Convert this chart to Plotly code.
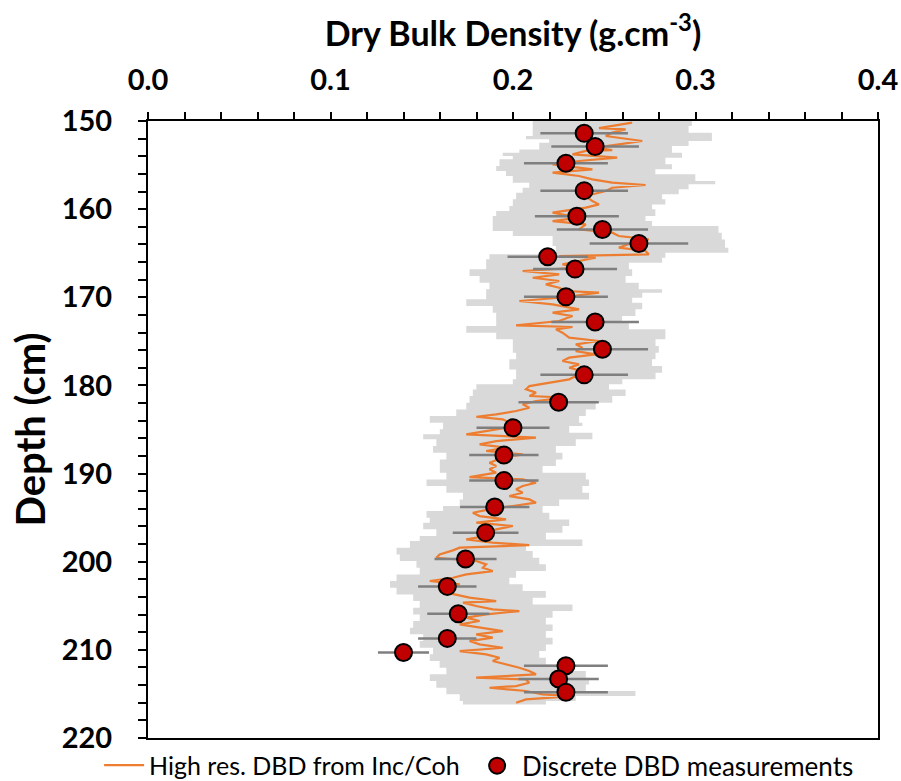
import plotly.graph_objects as go

# ---------------- data ----------------
# High-resolution DBD (orange line)
hr_depth = [150.19, 150.57, 150.80, 150.95, 151.32, 151.70, 152.27, 152.65, 153.03, 153.30,
            153.40, 153.78, 154.16, 154.54, 154.92, 155.48, 155.86, 156.24, 156.62, 157.00,
            157.26, 157.57, 157.94, 158.51, 159.08, 159.46, 159.83, 160.40, 160.97, 161.35,
            161.73, 162.29, 162.67, 163.05, 163.43, 163.80, 164.37, 164.75, 165.13, 165.32,
            165.51, 165.88, 166.26, 166.64, 167.02, 167.40, 167.78, 168.15, 168.53, 168.91,
            169.29, 169.48, 170.05, 170.42, 170.80, 171.37, 171.75, 172.13, 172.69, 173.18,
            173.37, 173.64, 174.02, 174.58, 174.96, 175.34, 175.72, 176.10, 176.47, 176.85,
            177.23, 177.61, 177.99, 178.37, 178.93, 179.31, 179.69, 180.07, 180.45, 180.82,
            181.20, 181.39, 181.77, 182.15, 182.53, 182.90, 183.28, 183.55, 183.85, 184.23,
            184.61, 184.98, 185.55, 185.93, 186.31, 186.69, 187.06, 187.44, 187.82, 188.20,
            188.77, 189.15, 189.52, 189.90, 190.40, 190.66, 191.04, 191.41, 191.79, 192.17,
            192.55, 192.93, 193.30, 193.68, 194.06, 194.44, 194.82, 195.20, 195.57, 195.95,
            196.33, 196.71, 197.09, 197.47, 197.84, 198.11, 198.41, 198.71, 199.17, 199.55,
            199.92, 200.30, 200.68, 201.06, 201.44, 201.82, 202.19, 202.57, 202.95, 203.33,
            203.71, 204.08, 204.46, 204.65, 205.03, 205.41, 205.60, 205.98, 206.35, 206.73,
            207.11, 207.49, 207.87, 208.24, 208.62, 209.00, 209.38, 209.76, 210.14, 210.51,
            210.89, 211.27, 211.65, 212.03, 212.40, 212.78, 213.16, 213.35, 213.73, 214.11,
            214.30, 214.67, 215.05, 215.24, 215.62, 216.00]
hr_dbd = [0.2653, 0.2544, 0.2471, 0.2617, 0.2544, 0.2508, 0.2708, 0.2580, 0.2453, 0.2544,
          0.2399, 0.2326, 0.2571, 0.2362, 0.2217, 0.2435, 0.2217, 0.2362, 0.2435, 0.2544,
          0.2726, 0.2544, 0.2508, 0.2399, 0.2435, 0.2471, 0.2399, 0.2217, 0.2362, 0.2217,
          0.2399, 0.2362, 0.2544, 0.2580, 0.2744, 0.2653, 0.2580, 0.2726, 0.2744, 0.2253,
          0.2453, 0.2362, 0.2271, 0.2362, 0.2053, 0.2253, 0.2108, 0.2253, 0.2180, 0.2253,
          0.2289, 0.2471, 0.2253, 0.2035, 0.2217, 0.2362, 0.2217, 0.2326, 0.2253, 0.2017,
          0.2326, 0.2235, 0.2271, 0.2308, 0.2471, 0.2344, 0.2380, 0.2344, 0.2453, 0.2308,
          0.2271, 0.2362, 0.2308, 0.2380, 0.2344, 0.2308, 0.2199, 0.2090, 0.2071, 0.2126,
          0.2090, 0.2290, 0.2126, 0.2053, 0.2090, 0.2017, 0.1908, 0.1799, 0.1944, 0.1980,
          0.2017, 0.1908, 0.1744, 0.2126, 0.1908, 0.1817, 0.1962, 0.1853, 0.2053, 0.1944,
          0.1871, 0.1908, 0.1871, 0.1908, 0.1762, 0.2053, 0.2126, 0.2053, 0.2017, 0.2053,
          0.1980, 0.2090, 0.2126, 0.1999, 0.1871, 0.1780, 0.1817, 0.1962, 0.1799, 0.1999,
          0.1908, 0.1871, 0.1853, 0.1744, 0.1889, 0.2089, 0.1708, 0.1671, 0.1598, 0.1580,
          0.1798, 0.1853, 0.1835, 0.1889, 0.1744, 0.1671, 0.1544, 0.1708, 0.1617, 0.1598,
          0.1689, 0.1762, 0.1908, 0.1726, 0.1798, 0.1889, 0.2035, 0.1853, 0.1744, 0.1817,
          0.1708, 0.1817, 0.1944, 0.1798, 0.1889, 0.1762, 0.1817, 0.1944, 0.1708, 0.1853,
          0.1926, 0.1889, 0.1962, 0.2035, 0.2089, 0.2126, 0.1798, 0.2071, 0.2089, 0.2017,
          0.1871, 0.2071, 0.2162, 0.2326, 0.2071, 0.2017]

# Uncertainty envelope of the high-res series (grey band): lower edge
band_lo_depth = [150.00, 151.32, 151.70, 152.08, 152.46, 153.22, 153.59, 153.97, 154.35, 155.11,
                 155.67, 156.24, 157.00, 157.57, 158.13, 158.89, 159.65, 160.21, 160.78, 161.91,
                 162.48, 163.05, 164.18, 164.94, 165.13, 165.69, 166.83, 167.59, 168.34, 169.10,
                 170.23, 170.99, 171.75, 173.26, 174.02, 174.77, 175.53, 176.29, 177.04, 178.18,
                 179.31, 179.88, 180.45, 181.20, 181.96, 182.72, 183.47, 184.23, 184.98, 185.55,
                 186.12, 186.88, 187.63, 188.39, 189.15, 189.90, 190.66, 191.41, 192.17, 192.93,
                 193.68, 194.25, 195.01, 195.57, 196.33, 197.09, 197.65, 198.41, 199.17, 199.92,
                 200.68, 201.44, 202.19, 202.95, 203.71, 204.46, 205.22, 205.98, 206.73, 207.49,
                 208.24, 209.00, 209.76, 210.51, 211.27, 212.03, 212.78, 213.54, 214.30, 215.05,
                 215.81, 216.19]
band_lo = [0.2108, 0.2108, 0.2071, 0.2198, 0.2144, 0.2035, 0.1944, 0.1999, 0.1926, 0.1908,
           0.1962, 0.1999, 0.2089, 0.2053, 0.2017, 0.1999, 0.1980, 0.1908, 0.1889, 0.1889,
           0.1999, 0.2217, 0.2235, 0.2217, 0.1871, 0.1853, 0.1762, 0.1817, 0.1871, 0.1853,
           0.1744, 0.1889, 0.1908, 0.1744, 0.1908, 0.1999, 0.1999, 0.2017, 0.1980, 0.2017,
           0.1999, 0.1799, 0.1780, 0.1762, 0.1744, 0.1689, 0.1544, 0.1617, 0.1599, 0.1508,
           0.1580, 0.1562, 0.1635, 0.1599, 0.1599, 0.1635, 0.1526, 0.1635, 0.1726, 0.1708,
           0.1617, 0.1526, 0.1544, 0.1508, 0.1580, 0.1489, 0.1435, 0.1362, 0.1380, 0.1471,
           0.1489, 0.1362, 0.1326, 0.1362, 0.1453, 0.1489, 0.1453, 0.1489, 0.1453, 0.1435,
           0.1508, 0.1489, 0.1562, 0.1544, 0.1598, 0.1635, 0.1544, 0.1580, 0.1635, 0.1708,
           0.1726, 0.1762]
# upper edge
band_hi_depth = [150.00, 150.57, 151.32, 152.27, 152.84, 153.59, 154.16, 154.92, 155.48, 156.05,
                 156.81, 157.19, 157.75, 158.32, 158.89, 159.46, 160.02, 160.78, 161.35, 161.91,
                 162.67, 163.43, 164.37, 164.94, 165.51, 166.07, 166.83, 167.59, 168.34, 169.10,
                 169.48, 170.05, 170.61, 171.37, 172.13, 172.88, 173.64, 174.77, 175.53, 176.29,
                 177.04, 177.80, 178.56, 179.31, 179.88, 180.45, 181.20, 181.96, 182.72, 183.47,
                 184.23, 184.61, 185.36, 186.12, 186.88, 187.63, 188.39, 189.15, 189.90, 190.66,
                 191.41, 192.17, 192.93, 193.68, 194.44, 195.20, 195.95, 196.71, 197.47, 198.22,
                 198.79, 199.55, 200.30, 201.06, 201.82, 202.57, 203.33, 204.08, 204.84, 205.60,
                 206.35, 207.11, 207.87, 208.62, 209.38, 210.14, 210.89, 211.65, 212.40, 213.16,
                 213.92, 214.67, 215.24, 215.81, 216.19]
band_hi = [0.3035, 0.2980, 0.2962, 0.3090, 0.2962, 0.2871, 0.2926, 0.2835, 0.2871, 0.2780,
           0.2999, 0.3108, 0.2962, 0.2908, 0.2817, 0.2835, 0.2762, 0.2780, 0.2726, 0.2762,
           0.3126, 0.3144, 0.3162, 0.3180, 0.2835, 0.2817, 0.2635, 0.2653, 0.2617, 0.2689,
           0.2817, 0.2708, 0.2653, 0.2708, 0.2671, 0.2598, 0.2635, 0.2835, 0.2781, 0.2799,
           0.2781, 0.2762, 0.2817, 0.2781, 0.2599, 0.2526, 0.2617, 0.2544, 0.2453, 0.2399,
           0.2362, 0.2380, 0.2308, 0.2435, 0.2344, 0.2235, 0.2271, 0.2235, 0.2162, 0.2399,
           0.2417, 0.2380, 0.2417, 0.2253, 0.2162, 0.2199, 0.2308, 0.2271, 0.2180, 0.2380,
           0.2071, 0.2108, 0.2144, 0.2180, 0.2017, 0.1980, 0.2053, 0.2180, 0.2108, 0.2326,
           0.2217, 0.2180, 0.2217, 0.2180, 0.2217, 0.2180, 0.2144, 0.2180, 0.2326, 0.2399,
           0.2417, 0.2399, 0.2671, 0.2344, 0.2180]

# Discrete DBD measurements with horizontal error bars
dd_depth = [151.4, 152.9, 154.8, 157.9, 160.8, 162.3, 163.9, 165.4, 166.8, 169.95,
            172.8, 175.9, 178.8, 181.9, 184.8, 187.9, 190.8, 193.8, 196.7, 199.7,
            202.8, 205.9, 208.7, 210.3, 211.8, 213.3, 214.8]
dd_val = [0.239, 0.245, 0.229, 0.239, 0.235, 0.249, 0.269, 0.219, 0.234, 0.229,
          0.245, 0.249, 0.239, 0.225, 0.200, 0.195, 0.195, 0.190, 0.185, 0.174,
          0.164, 0.170, 0.164, 0.140, 0.229, 0.225, 0.229]
dd_err = [0.024, 0.024, 0.023, 0.024, 0.023, 0.025, 0.027, 0.022, 0.023, 0.023,
          0.024, 0.025, 0.024, 0.022, 0.020, 0.019, 0.019, 0.019, 0.018, 0.017,
          0.016, 0.017, 0.016, 0.014, 0.023, 0.022, 0.023]

x_ticks = [0.0, 0.1, 0.2, 0.3, 0.4]
y_ticks = [150, 160, 170, 180, 190, 200, 210, 220]

FONT = "Lato"

fig = go.Figure()

# grey envelope as a closed polygon (lower edge down, upper edge back up)
fig.add_trace(go.Scatter(
    x=band_lo + band_hi[::-1],
    y=band_lo_depth + band_hi_depth[::-1],
    mode="lines", fill="toself", fillcolor="#D9D9D9",
    line=dict(width=0, shape="vh", color="#D9D9D9"),
    showlegend=False, hoverinfo="skip"))

fig.add_trace(go.Scatter(
    x=hr_dbd, y=hr_depth, mode="lines",
    line=dict(color="#ED7D31", width=2.2),
    name="High res. DBD from Inc/Coh", legend="legend"))

fig.add_trace(go.Scatter(
    x=dd_val, y=dd_depth, mode="markers",
    marker=dict(color="#C00000", size=17, line=dict(color="black", width=2)),
    error_x=dict(type="data", array=dd_err, visible=True, color="#7F7F7F",
                 thickness=2.5, width=0),
    name="Discrete DBD measurements", legend="legend2"))

axis_common = dict(
    showgrid=False, zeroline=False, showline=True, linecolor="black", linewidth=2,
    mirror=True, ticks="outside", tickcolor="black", tickwidth=2, automargin=False,
)

legend_common = dict(orientation="h", xanchor="left", yanchor="top", y=-0.007,
                     itemwidth=40, bgcolor="rgba(0,0,0,0)")

fig.update_layout(
    width=901, height=781,
    margin=dict(l=148, r=23, t=121, b=43, autoexpand=False),
    paper_bgcolor="white", plot_bgcolor="white",
    font=dict(family=FONT, color="black"),
    xaxis=dict(
        **axis_common, side="top", range=[0, 0.4],
        tickvals=x_ticks, ticktext=[f"{v:.1f}" for v in x_ticks], ticklen=7,
        minor=dict(dtick=0.02, ticks="outside", ticklen=7, tickwidth=2, tickcolor="black"),
        tickfont=dict(size=29, family=FONT, weight="bold"),
        ticklabelstandoff=10,
        title=dict(text="Dry Bulk Density (g.cm<sup>-3</sup>)",
                   font=dict(size=34, family=FONT, weight="bold"), standoff=5),
    ),
    yaxis=dict(
        **axis_common, range=[220, 150],
        tickvals=y_ticks, ticklen=8,
        minor=dict(dtick=2, ticks="outside", ticklen=8, tickwidth=2, tickcolor="black"),
        tickfont=dict(size=29, family=FONT, weight="bold"),
        ticklabelstandoff=20,
        title=dict(text="Depth (cm)", font=dict(size=40, family=FONT, weight="bold"),
                   standoff=4),
    ),
    legend=dict(**legend_common, x=-0.067, font=dict(size=25, family=FONT)),
    legend2=dict(**legend_common, x=0.444, font=dict(size=26, family=FONT)),
)

fig.write_html("out.html",
               config={"displayModeBar": False},
               post_script="document.body.style.margin='0';"
                           "document.body.style.overflow='hidden';")
